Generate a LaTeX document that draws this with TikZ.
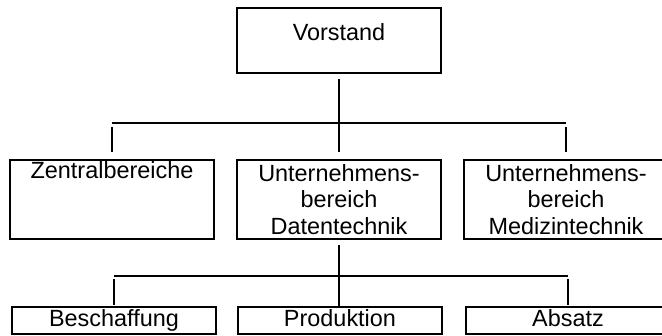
\documentclass[tikz,border=0pt]{standalone}
\usepackage{fontspec}
\setmainfont{Liberation Sans}
\usepackage{tikz}

\begin{document}
\begin{tikzpicture}[x=0.03cm,y=-0.03cm,
  box/.style={draw,line width=1.6pt,inner sep=0pt,minimum width=6.12cm,
    font=\fontsize{20pt}{22.6pt}\selectfont},
  conn/.style={line width=1.4pt}]

\useasboundingbox (0,0) rectangle (662,336);

\node[box,text height=0.96cm,text depth=0.99cm] (vorstand) at (339,40.5) {Vorstand};

\node[box,text height=0.54cm,text depth=1.83cm] (zentral) at (112,199.5) {Zentralbereiche};
\node[box,minimum height=2.37cm,align=center] (daten) at (339,199.5) {Unternehmens-\\bereich\\Datentechnik};
\node[box,minimum height=2.37cm,align=center] (medizin) at (566,199.5) {Unternehmens-\\bereich\\Medizintechnik};

\node[box,text height=0.57cm,text depth=0.24cm] (beschaffung) at (114,320.5) {Beschaffung};
\node[box,text height=0.57cm,text depth=0.24cm] (produktion) at (340,320.5) {Produktion};
\node[box,text height=0.57cm,text depth=0.24cm] (absatz) at (568,320.5) {Absatz};

\coordinate (bus1) at (339,123);
\coordinate (bus2) at (339,276);

%   Linien

\draw[conn,shorten <=0.15cm,shorten >=0.21cm] (vorstand) -- (daten);
\draw[conn] (zentral.north |- bus1) -- (medizin.north |- bus1);
\draw[conn,shorten <=0.12cm,shorten >=0.21cm] (zentral.north |- bus1) -- (zentral.north);
\draw[conn,shorten <=0.12cm,shorten >=0.21cm] (medizin.north |- bus1) -- (medizin.north);

\draw[conn,shorten <=0.15cm] (daten.south) -- (produktion.north -| daten.south);
\draw[conn] (beschaffung.north |- bus2) -- (absatz.north |- bus2);
\draw[conn,shorten <=0.09cm,shorten >=0.03cm] (beschaffung.north |- bus2) -- (beschaffung.north);
\draw[conn,shorten <=0.09cm,shorten >=0.03cm] (absatz.north |- bus2) -- (absatz.north);

\end{tikzpicture}
\end{document}
